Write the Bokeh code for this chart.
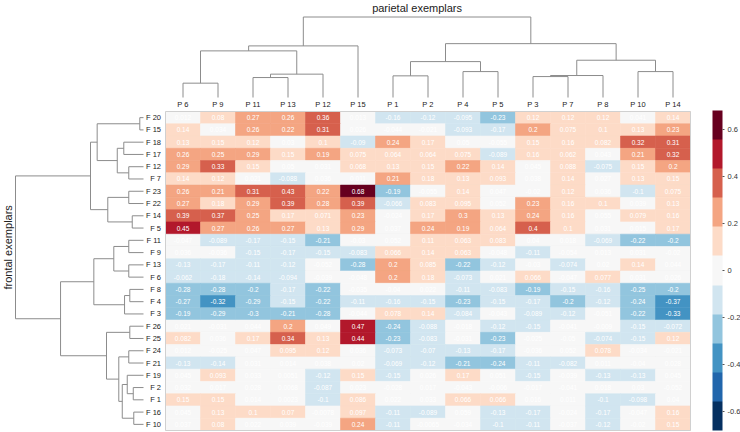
from math import pi
from bokeh.plotting import figure
from bokeh.models import ColumnDataSource, LinearColorMapper, ColorBar, FixedTicker, Range1d
from bokeh.core.properties import value
from bokeh.embed import file_html
from bokeh.resources import INLINE

# ---------------- data ----------------
col_labels = ["P 6", "P 9", "P 11", "P 13", "P 12", "P 15", "P 1", "P 2", "P 4", "P 5",
              "P 3", "P 7", "P 8", "P 10", "P 14"]
row_labels = ["F 20", "F 15", "F 18", "F 17", "F 12", "F 7", "F 23", "F 22", "F 14", "F 5",
              "F 11", "F 9", "F 13", "F 6", "F 8", "F 4", "F 3", "F 26", "F 25", "F 24",
              "F 21", "F 19", "F 2", "F 1", "F 16", "F 10"]

f20 = [0.012, 0.08, 0.27, 0.26, 0.36, 0.013, -0.16, -0.12, -0.095, -0.23, 0.12, 0.12, 0.12, 0.041, 0.14]
f15 = [0.14, 0.034, 0.26, 0.22, 0.31, 0.026, -0.044, -0.021, -0.093, -0.17, 0.2, 0.075, 0.1, 0.13, 0.23]
f18 = [0.13, 0.15, 0.12, 0.03, 0.1, -0.09, 0.24, 0.17, 0.05, -0.055, 0.15, 0.16, 0.082, 0.32, 0.31]
f17 = [0.26, 0.25, 0.29, 0.15, 0.19, 0.075, 0.064, 0.064, 0.075, -0.089, 0.16, 0.062, 0.043, 0.21, 0.32]
f12 = [0.29, 0.33, 0.15, 0.05, 0.031, 0.068, 0.13, 0.15, 0.22, 0.14, 0.045, 0.088, -0.075, 0.15, 0.2]
f7 = [0.14, 0.12, 0.021, -0.088, 0.036, 0.011, 0.21, 0.18, 0.13, 0.093, 0.038, 0.14, 0.027, 0.13, 0.15]
f23 = [0.26, 0.21, 0.31, 0.43, 0.22, 0.68, -0.19, -0.055, 0.14, 0.047, -0.02, 0.12, 0.036, -0.1, 0.075]
f22 = [0.27, 0.18, 0.29, 0.39, 0.28, 0.39, -0.066, 0.083, 0.095, 0.052, 0.23, 0.16, 0.1, 0.039, 0.13]
f14 = [0.39, 0.37, 0.25, 0.17, 0.071, 0.23, -0.024, 0.17, 0.3, 0.13, 0.24, 0.16, 0.055, 0.079, 0.16]
f5 = [0.45, 0.27, 0.26, 0.27, 0.13, 0.29, 0.037, 0.24, 0.19, 0.064, 0.4, 0.1, 0.031, 0.015, 0.17]
f11 = [-0.047, -0.089, -0.17, -0.15, -0.21, -0.03, 0.052, 0.11, 0.063, 0.083, 0.04, 0.018, -0.069, -0.22, -0.2]
f9 = [0.036, -0.036, -0.15, -0.17, -0.15, -0.083, 0.066, 0.14, 0.063, -0.048, -0.11, -0.054, 0.013, 0.031, -0.02]
f13 = [-0.13, -0.17, -0.11, -0.12, -0.052, -0.28, 0.2, 0.085, -0.22, -0.12, -0.03, -0.074, 0.02, 0.14, 0.044]
f6 = [-0.062, -0.18, -0.14, -0.094, -0.039, -0.048, 0.2, 0.18, -0.073, 0.021, 0.066, -0.047, 0.077, 0.031, 0.026]
f8 = [-0.28, -0.28, -0.2, -0.17, -0.22, -0.035, -0.04, 0.022, -0.11, -0.083, -0.19, -0.15, -0.16, -0.25, -0.2]
f4 = [-0.27, -0.32, -0.29, -0.15, -0.22, -0.11, -0.16, -0.15, -0.23, -0.15, -0.17, -0.2, -0.12, -0.24, -0.37]
f3 = [-0.19, -0.29, -0.3, -0.21, -0.28, -0.044, 0.078, 0.14, -0.084, -0.043, -0.089, -0.12, -0.051, -0.22, -0.33]
f26 = [0.021, -0.031, 0.044, 0.2, 0.049, 0.47, -0.24, -0.088, -0.018, -0.12, -0.15, -0.041, -0.009, -0.15, -0.072]
f25 = [0.082, 0.036, 0.17, 0.34, 0.13, 0.44, -0.23, -0.083, -0.031, -0.23, -0.025, -0.05, -0.074, -0.15, 0.12]
f24 = [0.012, -0.025, 0.047, 0.095, 0.12, 0.036, -0.073, -0.07, -0.13, -0.17, -0.036, 0.052, 0.078, -0.034, -0.021]
f21 = [-0.13, -0.14, 0.031, 0.014, 0.038, 0.02, -0.069, -0.12, -0.21, -0.24, -0.11, -0.082, 0.011, -0.04, 0.028]
f19 = [0.045, 0.093, 0.033, 0.0051, -0.12, 0.15, -0.15, 0.026, 0.17, 0.051, -0.15, -0.039, -0.13, -0.13, 0.045]
f2 = [0.032, 0.017, 0.028, 0.0068, -0.087, 0.023, -0.028, 0.017, -0.043, -0.006, -0.017, -0.041, 0.018, 0.03, -0.052]
f1 = [0.15, 0.15, 0.014, 0.0023, -0.1, 0.086, 0.022, 0.033, 0.066, 0.066, 0.016, 0.011, -0.1, -0.098, 0.04]
f16 = [0.045, 0.13, 0.1, 0.07, -0.0078, 0.097, -0.11, -0.089, 0.059, -0.13, -0.17, -0.024, -0.17, -0.047, 0.16]
f10 = [0.037, 0.08, 0.022, 0.039, -0.039, 0.24, -0.11, -0.0065, -0.034, -0.1, -0.11, -0.037, -0.12, -0.02, 0.15]

matrix_rows = [f20, f15, f18, f17, f12, f7, f23, f22, f14, f5, f11, f9, f13, f6,
               f8, f4, f3, f26, f25, f24, f21, f19, f2, f1, f16, f10]

# dendrogram merges: (child a, child b, height relative to root); ints refer to earlier merges
col_merges = [("P 6", "P 9", 0.178), ("P 11", "P 13", 0.248), (1, "P 12", 0.29),
              (0, 2, 0.579), (3, "P 15", 0.641), ("P 1", "P 2", 0.269), ("P 4", "P 5", 0.322),
              (5, 6, 0.446), ("P 3", "P 7", 0.26), (8, "P 8", 0.273), ("P 10", "P 14", 0.322),
              (9, 10, 0.463), (7, 11, 0.669), (4, 12, 1.0)]
row_merges = [("F 20", "F 15", 0.029), ("F 18", "F 17", 0.154), ("F 12", "F 7", 0.115),
              (1, 2, 0.205), (0, 3, 0.362), ("F 23", "F 22", 0.115), ("F 14", "F 5", 0.088),
              (5, 6, 0.279), (4, 7, 0.414), ("F 11", "F 9", 0.115), ("F 13", "F 6", 0.115),
              (9, 10, 0.232), ("F 8", "F 4", 0.107), (12, "F 3", 0.148), (11, 13, 0.388),
              ("F 26", "F 25", 0.107), ("F 24", "F 21", 0.115), ("F 2", "F 1", 0.080),
              ("F 19", 17, 0.127), ("F 16", "F 10", 0.076), (18, 19, 0.166), (16, 20, 0.193),
              (15, 21, 0.289), (14, 22, 0.648), (8, 23, 1.0)]

palette = ["#053061", "#2166ac", "#4393c3", "#92c5de", "#d1e5f0", "#f7f7f7",
           "#fddbc7", "#f4a582", "#d6604d", "#b2182b", "#67001f"]
color_low, color_high = -0.68, 0.68
cbar_ticks = [-0.6, -0.4, -0.2, 0, 0.2, 0.4, 0.6]
cbar_tick_labels = ["-0.6", "-0.4", "-0.2", "0", "0.2", "0.4", "0.6"]
title_text = "parietal exemplars"
ylabel_text = "frontal exemplars"

# ---------------- layout (pixels) ----------------
FIG_W, FIG_H = 740, 432
HM_L, HM_R, HM_T, HM_B = 165, 690, 111, 430
nr, nc = len(row_labels), len(col_labels)
cw = (HM_R - HM_L) / nc
rh = (HM_B - HM_T) / nr
FONT = value("Liberation Sans")

def px_x(px):
    return (px - HM_L) / cw

def px_y(py):
    return nr + (HM_T - py) / rh

p = figure(width=FIG_W, height=FIG_H, output_backend="svg", toolbar_location=None,
           x_range=Range1d(px_x(0), px_x(FIG_W)), y_range=Range1d(px_y(FIG_H), px_y(0)),
           x_axis_type=None, y_axis_type=None, min_border=0, outline_line_color=None)
p.grid.visible = False

mapper = LinearColorMapper(palette=palette, low=color_low, high=color_high)

xs, ys, vs, ts = [], [], [], []
for i, r in enumerate(matrix_rows):
    for j, v in enumerate(r):
        xs.append(j + 0.5)
        ys.append(nr - i - 0.5)
        vs.append(v)
        ts.append("%.2g" % v)
src = ColumnDataSource(dict(x=xs, y=ys, v=vs, t=ts))
p.rect(x="x", y="y", width=1, height=1, source=src,
       fill_color={"field": "v", "transform": mapper},
       line_color={"field": "v", "transform": mapper}, line_width=0.6)
p.text(x="x", y="y", text="t", source=src, text_font=FONT, text_font_size="6.5px",
       text_color="white", text_align="center", text_baseline="middle")
p.quad(left=[0], right=[nc], bottom=[0], top=[nr], fill_color=None,
       line_color="#d0d0d0", line_width=1)


def dendro(leaves, merges):
    pos = {name: i for i, name in enumerate(leaves)}
    nodes, segs = [], []
    for a, b, h in merges:
        pa, ha = nodes[a] if isinstance(a, int) else (pos[a], 0.0)
        pb, hb = nodes[b] if isinstance(b, int) else (pos[b], 0.0)
        segs += [(pa, ha, pa, h), (pb, hb, pb, h), (pa, h, pb, h)]
        nodes.append(((pa + pb) / 2, h))
    return segs, nodes[-1]

DCOL = "#8c8c8c"
# column dendrogram (top)
c_leaf_y, c_root_y = px_y(97), px_y(16.5)
segs, croot = dendro(col_labels, col_merges)
p.segment(x0=[s[0] + 0.5 for s in segs], x1=[s[2] + 0.5 for s in segs],
          y0=[c_leaf_y + s[1] * (c_root_y - c_leaf_y) for s in segs],
          y1=[c_leaf_y + s[3] * (c_root_y - c_leaf_y) for s in segs],
          line_color=DCOL, line_width=1)
# row dendrogram (left)
r_leaf_x, r_root_x = px_x(143), px_x(15)
segs, rroot = dendro(row_labels, row_merges)
p.segment(y0=[nr - s[0] - 0.5 for s in segs], y1=[nr - s[2] - 0.5 for s in segs],
          x0=[r_leaf_x + s[1] * (r_root_x - r_leaf_x) for s in segs],
          x1=[r_leaf_x + s[3] * (r_root_x - r_leaf_x) for s in segs],
          line_color=DCOL, line_width=1)

# labels
p.text(x=[j + 0.5 for j in range(nc)], y=[px_y(104)] * nc, text=col_labels,
       text_font=FONT, text_font_size="7.5px", text_color="#222",
       text_align="center", text_baseline="middle")
p.text(x=[px_x(160.5)] * nr, y=[nr - i - 0.5 for i in range(nr)], text=row_labels,
       text_font=FONT, text_font_size="7.5px", text_color="#222",
       text_align="right", text_baseline="middle")
p.text(x=[croot[0] + 0.5], y=[px_y(7)], text=[title_text], text_font=FONT,
       text_font_size="11px", text_color="#222", text_align="center", text_baseline="middle")
p.text(x=[px_x(7)], y=[nr - rroot[0] - 0.5], text=[ylabel_text], text_font=FONT,
       text_font_size="11px", text_color="#222", text_align="center",
       text_baseline="middle", angle=pi / 2)

cb = ColorBar(color_mapper=mapper, ticker=FixedTicker(ticks=cbar_ticks),
              major_label_overrides=dict(zip(cbar_ticks, cbar_tick_labels)),
              location=(712, FIG_H - HM_B), width=10, height=HM_B - HM_T + 1, padding=0,
              background_fill_alpha=0, border_line_color=None, bar_line_color=None,
              major_label_text_font="Liberation Sans", major_label_text_font_size="7.5px",
              major_label_text_color="#333", major_tick_line_color="#555",
              major_tick_in=0, major_tick_out=2, label_standoff=3)
p.add_layout(cb)

open("out.html", "w").write(file_html(p, INLINE))
